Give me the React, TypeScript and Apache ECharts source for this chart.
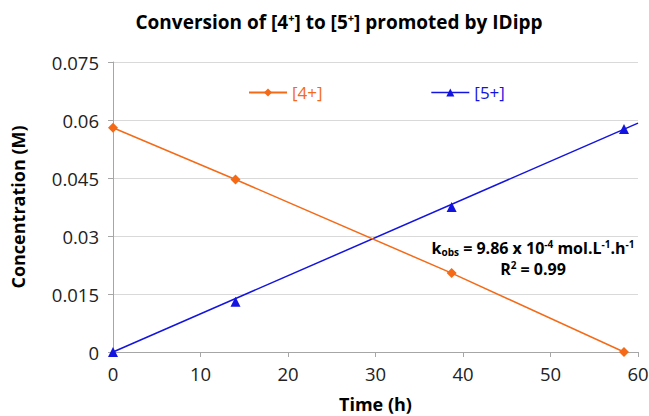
import React, { useEffect, useRef } from "react";
import * as echarts from "echarts";

const timeH = [0, 14, 38.7, 58.4];
const conc4 = [0.058, 0.0446, 0.0204, 0];
const conc5 = [0, 0.013, 0.0375, 0.0577];
const trend5X = [0, 60];
const trend5Y = [0, 0.0592];
const xTicks = { min: 0, max: 60, interval: 10 };
const yTicks = { min: 0, max: 0.075, interval: 0.015 };

const ORANGE = "#f56a17";
const BLUE = "#1414e0";
const FONT = "Open Sans";

export default function App() {
  const ref = useRef<HTMLDivElement>(null);
  useEffect(() => {
    if (!ref.current) return;
    document.body.style.margin = "0";
    const chart = echarts.init(ref.current, null, { renderer: "svg" });
    const d4 = timeH.map((t, i) => [t, conc4[i]]);
    const d5 = timeH.map((t, i) => [t, conc5[i]]);
    const tr = trend5X.map((t, i) => [t, trend5Y[i]]);
    chart.setOption({
      animation: false,
      textStyle: { fontFamily: FONT },
      grid: { left: 113, right: 11, top: 62, bottom: 64, containLabel: false, outerBoundsMode: "none" },
      legend: {
        left: 243,
        top: 79,
        itemWidth: 38,
        itemHeight: 10,
        itemGap: 108,
        textStyle: { fontFamily: FONT, fontSize: 17 },
        data: [
          { name: "[4+]", textStyle: { color: ORANGE } },
          {
            name: "[5+]",
            textStyle: { color: BLUE },
            lineStyle: { opacity: 1, color: BLUE, width: 1.5 },
          },
        ],
      },
      xAxis: {
        type: "value",
        min: xTicks.min,
        max: xTicks.max,
        interval: xTicks.interval,
        name: "Time (h)",
        nameLocation: "middle",
        nameGap: 43,
        nameTextStyle: { fontFamily: FONT, fontSize: 18, fontWeight: "bold", color: "#000" },
        axisLine: { show: true, lineStyle: { color: "#a6a6a6", width: 1 } },
        axisTick: { show: true, length: 5, lineStyle: { color: "#a6a6a6" } },
        axisLabel: { margin: 12, fontSize: 18.5, color: "#222", fontFamily: FONT },
        splitLine: { show: false },
      },
      yAxis: {
        type: "value",
        min: yTicks.min,
        max: yTicks.max,
        interval: yTicks.interval,
        name: "Concentration (M)",
        nameLocation: "middle",
        nameGap: 86,
        nameTextStyle: { fontFamily: FONT, fontSize: 18, fontWeight: "bold", color: "#000" },
        axisLine: { show: true, lineStyle: { color: "#a6a6a6", width: 1 } },
        axisTick: { show: true, inside: false, length: 5, lineStyle: { color: "#a6a6a6" } },
        axisLabel: { margin: 14, fontSize: 18.5, color: "#222", fontFamily: FONT },
        splitLine: { show: true, lineStyle: { color: "#d9d9d9", width: 1 } },
      },
      series: [
        {
          name: "[4+]",
          type: "line",
          data: d4,
          symbol: "diamond",
          symbolSize: 10,
          itemStyle: { color: ORANGE },
          lineStyle: { color: ORANGE, width: 1.5 },
          z: 3,
        },
        {
          name: "trend",
          type: "line",
          data: tr,
          symbol: "none",
          silent: true,
          lineStyle: { color: BLUE, width: 1.5 },
          z: 2,
        },
        {
          name: "[5+]",
          type: "line",
          data: d5,
          symbol: "triangle",
          symbolSize: 10,
          itemStyle: { color: BLUE },
          lineStyle: { color: BLUE, width: 1.5, opacity: 0 },
          z: 3,
        },
      ],
      graphic: [
        {
          type: "text",
          x: 339,
          y: 22,
          style: {
            text: "Conversion of [4{sup|+}] to [5{sup|+}] promoted by IDipp",
            align: "center",
            verticalAlign: "middle",
            fontFamily: FONT,
            fontSize: 19,
            fontWeight: "bold",
            fill: "#000",
            rich: {
              sup: { fontSize: 11, fontWeight: "bold", fontFamily: FONT, padding: [0, 0, 10, 0], fill: "#000" },
            },
          },
        },
        {
          type: "text",
          x: 533,
          y: 248,
          style: {
            text: "k{sub|obs} = 9.86 x 10{sup|-4} mol.L{sup|-1}.h{sup|-1}",
            align: "center",
            verticalAlign: "middle",
            fontFamily: FONT,
            fontSize: 16,
            fontWeight: "bold",
            fill: "#000",
            rich: {
              sub: { fontSize: 10, fontWeight: "bold", fontFamily: FONT, padding: [8, 0, 0, 0], verticalAlign: "bottom" },
              sup: { fontSize: 10, fontWeight: "bold", fontFamily: FONT, padding: [0, 0, 8, 0] },
            },
          },
        },
        {
          type: "text",
          x: 533,
          y: 269,
          style: {
            text: "R{sup|2} = 0.99",
            align: "center",
            verticalAlign: "middle",
            fontFamily: FONT,
            fontSize: 16,
            fontWeight: "bold",
            fill: "#000",
            rich: {
              sup: { fontSize: 10, fontWeight: "bold", fontFamily: FONT, padding: [0, 0, 8, 0] },
            },
          },
        },
      ],
    });
    return () => chart.dispose();
  }, []);
  return <div ref={ref} style={{ width: 649, height: 416 }} />;
}
